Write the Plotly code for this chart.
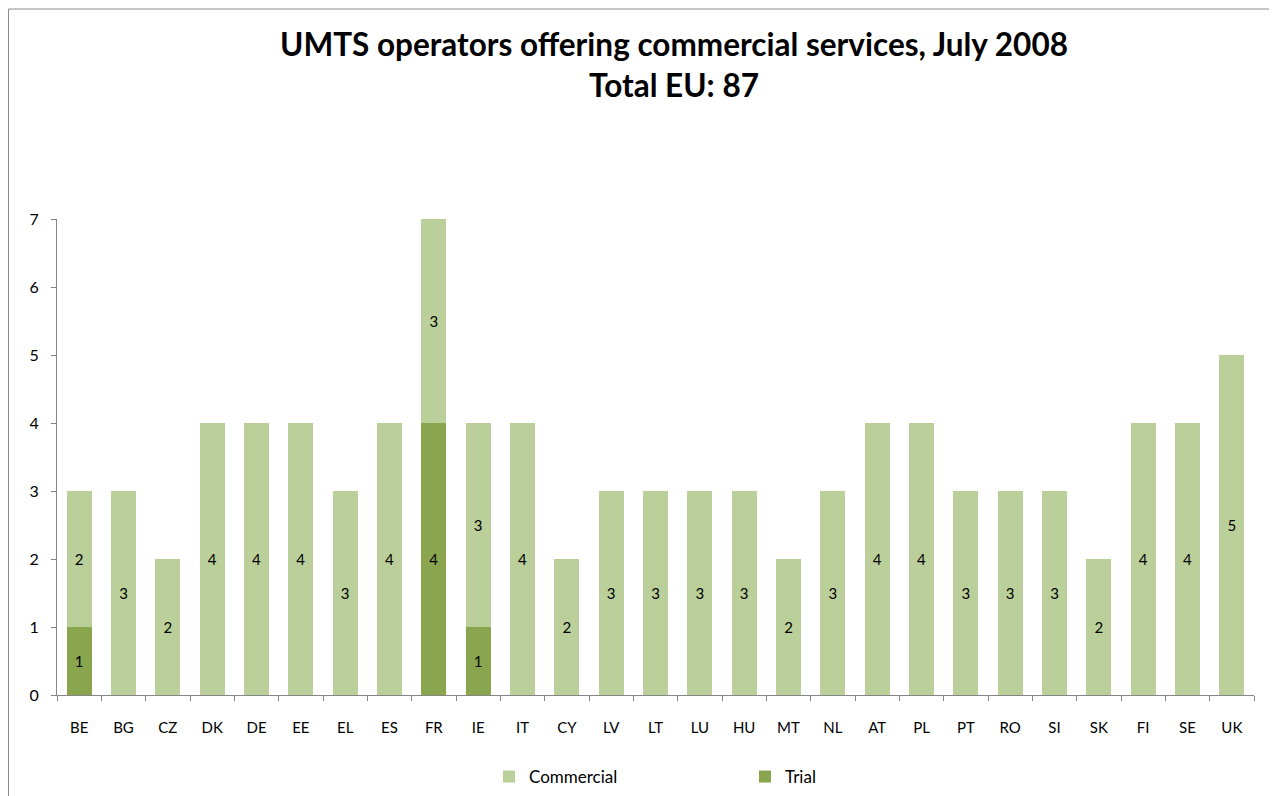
import plotly.graph_objects as go

countries = ["BE", "BG", "CZ", "DK", "DE", "EE", "EL", "ES", "FR", "IE", "IT", "CY", "LV", "LT",
             "LU", "HU", "MT", "NL", "AT", "PL", "PT", "RO", "SI", "SK", "FI", "SE", "UK"]
trial = [1, 0, 0, 0, 0, 0, 0, 0, 4, 1, 0, 0, 0, 0, 0, 0, 0, 0, 0, 0, 0, 0, 0, 0, 0, 0, 0]
commercial = [2, 3, 2, 4, 4, 4, 3, 4, 3, 3, 4, 2, 3, 3, 3, 3, 2, 3, 4, 4, 3, 3, 3, 2, 4, 4, 5]
yticks = [0, 1, 2, 3, 4, 5, 6, 7]

COMM_COLOR = "#BACF99"
TRIAL_COLOR = "#89A54E"
FONT = "Lato"

# figure sits at an 8px page offset (body margin)
W, H = 1269, 788
L, R, T, B = 49, 23, 211, 101
pw, ph = W - L - R, H - T - B

trial_text = [str(v) if v else "" for v in trial]
comm_text = [str(v) if v else "" for v in commercial]

fig = go.Figure()
fig.add_trace(go.Bar(
    x=countries, y=trial, name="Trial", marker=dict(color=TRIAL_COLOR, line=dict(width=0)),
    text=trial_text, textposition="inside", insidetextanchor="middle",
    textfont=dict(color="black", size=15, family=FONT), textangle=0,
    legendrank=2,
))
fig.add_trace(go.Bar(
    x=countries, y=commercial, name="Commercial", marker=dict(color=COMM_COLOR, line=dict(width=0)),
    text=comm_text, textposition="inside", insidetextanchor="middle",
    textfont=dict(color="black", size=15, family=FONT), textangle=0,
    legendrank=1,
))

def px_x(p):
    return (p - L) / pw

def px_y(p):
    return (H - B - p) / ph

fig.update_layout(
    width=W, height=H,
    barmode="stack", bargap=0.43,
    plot_bgcolor="white", paper_bgcolor="white",
    margin=dict(l=L, r=R, t=T, b=B, autoexpand=False),
    font=dict(family=FONT, color="black", size=15),
    uniformtext=dict(minsize=15, mode="show"),
    title=dict(
        text="<b>UMTS operators offering commercial services, July 2008<br>Total EU: 87</b>",
        x=666 / W, xanchor="center", xref="container",
        y=1 - 48 / H, yanchor="top", yref="container",
        font=dict(size=31.5, family=FONT, color="black"),
    ),
    xaxis=dict(
        type="category", categoryorder="array", categoryarray=countries,
        showline=True, linecolor="#868686", linewidth=1,
        ticks="outside", tickson="boundaries", ticklen=5, tickcolor="#868686",
        tickfont=dict(size=15, family=FONT), showgrid=False, zeroline=False,
        ticklabelstandoff=19,
    ),
    yaxis=dict(
        range=[0, 7], tickvals=yticks, ticktext=[str(v) for v in yticks],
        showline=True, linecolor="#868686", linewidth=1,
        ticks="outside", ticklen=5, tickcolor="#868686",
        tickfont=dict(size=16, family=FONT), showgrid=False, zeroline=False,
        ticklabelstandoff=9,
    ),
    legend=dict(
        orientation="h", x=px_x(481), xanchor="left", y=px_y(751), yanchor="top",
        entrywidth=211, entrywidthmode="pixels", traceorder="normal",
        font=dict(size=17, family=FONT),
    ),
    shapes=[dict(
        type="rect", xref="paper", yref="paper",
        x0=px_x(0.5), x1=px_x(1300), y0=px_y(820), y1=px_y(1),
        line=dict(color="#8C8C8C", width=1), fillcolor="rgba(0,0,0,0)", layer="below",
    )],
)

fig.write_html("out.html")
